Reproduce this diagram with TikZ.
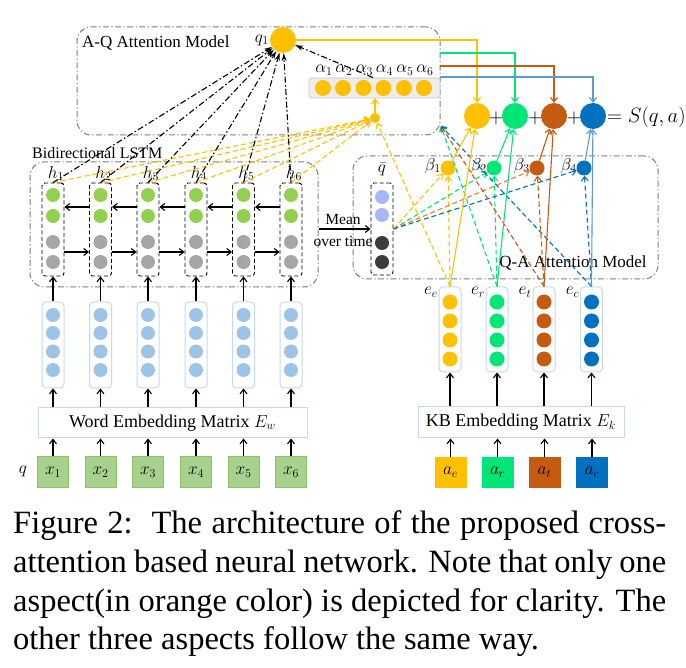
\documentclass[tikz,border=0pt]{standalone}
\usepackage{fontspec}
\setmainfont{Liberation Serif}
\usetikzlibrary{arrows.meta,calc}
\definecolor{cY}{HTML}{FFC000}
\definecolor{cG}{HTML}{00E676}
\definecolor{cB}{HTML}{C55A11}
\definecolor{cU}{HTML}{0070C0}
\definecolor{cUl}{HTML}{5B9BD5}
\definecolor{cOr}{HTML}{ED7D31}
\definecolor{lstmG}{HTML}{92D050}
\definecolor{gcirc}{HTML}{A6A6A6}
\definecolor{embC}{HTML}{9DC3E6}
\definecolor{embB}{HTML}{C5D9F1}
\definecolor{xF}{HTML}{A9D18E}
\definecolor{xB}{HTML}{8CC168}
\definecolor{qL}{HTML}{A5B8FA}
\definecolor{qD}{HTML}{3B3B3B}
\definecolor{grp}{HTML}{7F7F7F}
\definecolor{alF}{HTML}{EDEDED}
\definecolor{alB}{HTML}{C8C8C8}
\newcommand\diagfont{\fontsize{17}{20}\selectfont}
\newcommand\mathlabfont{\fontsize{18.5}{21}\selectfont}
\newcommand\smallfont{\fontsize{15.5}{18}\selectfont}
\newcommand\bigfont{\fontsize{22}{25}\selectfont}
\newcommand\mycapfont{\fontsize{32.5}{38.7}\selectfont}
\tikzset{
 grpbox/.style={draw=grp, line width=1pt, dash pattern=on 6pt off 2.5pt on 1.2pt off 2.5pt, rounded corners=14pt, inner sep=0},
 hcol/.style={draw=black, line width=0.9pt, dash pattern=on 4pt off 2.5pt, rounded corners=3pt, minimum width=22pt, inner sep=0},
 ecolbox/.style={draw=embB, line width=1pt, fill=white, rounded corners=4pt, minimum width=22pt, inner sep=0},
 dot/.style={circle, inner sep=0, minimum size=14pt},
 arr/.style={-{Straight Barb[length=4.5pt,width=7pt]}, line width=1.1pt},
 darr/.style={arr, dash pattern=on 5pt off 3pt},
 kdd/.style={-{Stealth[length=8pt,width=5pt]}, line width=1.1pt, dash pattern=on 6pt off 2.5pt on 1.5pt off 2.5pt},
 txt/.style={font=\diagfont, inner sep=0},
 mtxt/.style={font=\mathlabfont, inner sep=0},
}
\begin{document}
\begin{tikzpicture}[x=1pt,y=-1pt]
\useasboundingbox (0,0) rectangle (686,668);
\fill[white] (0,0) rectangle (686,668);

% group boxes
\node[grpbox, minimum width=363pt, minimum height=108pt] (aq) at (258.5,81) {};
\node[grpbox, minimum width=288pt, minimum height=125pt] (lstm) at (174,224.5) {};
\node[grpbox, minimum width=305pt, minimum height=123pt] (qa) at (505.5,217.5) {};
\node[txt, anchor=west] (aqlab) at (82,43) {A-Q Attention Model};
\node[txt, anchor=west, font=\fontsize{16}{18}\selectfont] (lstmlab) at (32,153) {Bidirectional LSTM};
\node[txt] (qalab) at (573,263) {Q-A Attention Model};

% q1 and alpha
\node[dot, fill=cY, minimum size=26pt] (q1) at (283,40) {};
\node[mtxt, anchor=east] (q1lab) at (269,40) {$q_1$};
\node[draw=alB, fill=alF, line width=0.8pt, rounded corners=3pt, minimum width=131pt, minimum height=20pt, inner sep=0] (alph) at (374.5,88) {};
\foreach \i/\x in {1/323,2/343,3/363.5,4/383.5,5/404,6/424}{
  \node[dot, fill=cY, minimum size=16pt] (al\i) at (\x,88) {};
  \node[inner sep=0, font=\fontsize{17.5}{20}\selectfont] (all\i) at (\x+1,70) {$\alpha_{\i}$};
}
\node[dot, fill=cY, minimum size=10pt] (att) at (375,118) {};

% LSTM columns
\foreach \i/\x in {1/53,2/100.5,3/148,4/196,5/243.5,6/291}{
  \node[hcol, minimum height=93pt] (hc\i) at (\x,229.5) {};
  \node[dot, fill=lstmG] (hga\i) at (\x,195) {};
  \node[dot, fill=lstmG] (hgb\i) at (\x,216) {};
  \node[dot, fill=gcirc] (hgc\i) at (\x,242) {};
  \node[dot, fill=gcirc] (hgd\i) at (\x,262) {};
  \node[mtxt] (hl\i) at (\x+3,173.5) {$h_{\i}$};
  \node[ecolbox, minimum height=86pt] (wc\i) at (\x,345) {};
  \node[dot, fill=embC] (wca\i) at (\x,315) {};
  \node[dot, fill=embC] (wcb\i) at (\x,333) {};
  \node[dot, fill=embC] (wcc\i) at (\x,351.5) {};
  \node[dot, fill=embC] (wcd\i) at (\x,370) {};
  \node[draw=xB, fill=xF, line width=1pt, minimum width=31pt, minimum height=30pt, inner sep=0, font=\mathlabfont] (xb\i) at (\x,472) {$x_{\i}$};
}
\node[draw=embB, line width=1pt, minimum width=269pt, minimum height=30pt, inner sep=0, font=\fontsize{18}{21}\selectfont] (wem) at (172.5,423) {Word Embedding Matrix $E_w$};
\node[mtxt] (qlab) at (23,471) {$q$};

% qbar
\node[hcol, minimum height=92pt] (qbc) at (382,229) {};
\node[dot, fill=qL] (qba) at (382,197) {};
\node[dot, fill=qL] (qbb) at (382,215) {};
\node[dot, fill=qD] (qbcc) at (382,243) {};
\node[dot, fill=qD] (qbd) at (382,262) {};
\node[mtxt] (qblab) at (382,169) {$\bar{q}$};
\node[font=\smallfont, inner sep=0] (mean) at (343,220) {Mean};
\node[font=\smallfont, inner sep=0] (overt) at (343,241) {over time};

% betas and big circles
\foreach \i/\x/\c in {1/448/cY,2/494/cG,3/537/cB,4/584/cU}{
  \node[dot, fill=\c, minimum size=15pt] (beta\i) at (\x,168) {};
  \node[mtxt, anchor=east] (betal\i) at (\x-7,166) {$\beta_{\i}$};
}
\foreach \i/\x/\c in {1/477/cY,2/515/cG,3/554/cB,4/593/cU}{
  \node[dot, fill=\c, minimum size=26pt] (big\i) at (\x,116) {};
}
\node[font=\bigfont, inner sep=0] (p1) at (496,118) {$+$};
\node[font=\bigfont, inner sep=0] (p2) at (535,118) {$+$};
\node[font=\bigfont, inner sep=0] (p3) at (574,118) {$+$};
\node[font=\bigfont, inner sep=0, anchor=west] (score) at (607,117) {$=S(q,a)$};

% e columns
\foreach \i/\x/\c/\s in {1/450/cY/e,2/497/cG/r,3/544/cB/t,4/591.5/cU/c}{
  \node[ecolbox, minimum height=85pt] (ec\i) at (\x,329.5) {};
  \node[dot, fill=\c, minimum size=15pt] (eca\i) at (\x,302) {};
  \node[dot, fill=\c, minimum size=15pt] (ecb\i) at (\x,321) {};
  \node[dot, fill=\c, minimum size=15pt] (ecc\i) at (\x,340) {};
  \node[dot, fill=\c, minimum size=15pt] (ecd\i) at (\x,359) {};
  \node[mtxt] (el\i) at (\x-19,292) {$e_{\s}$};
  \node[fill=\c, minimum width=32pt, minimum height=31pt, inner sep=0, font=\mathlabfont] (ab\i) at (\x+0.5,472.5) {$a_{\s}$};
}
\node[draw=embB, line width=1pt, minimum width=206pt, minimum height=31pt, inner sep=0, font=\fontsize{18}{21}\selectfont] (kbm) at (521,422.5) {KB Embedding Matrix $E_k$};

\coordinate (aqc) at (441,126);
\coordinate (g0) at (440,53);
\coordinate (b0) at (440,66);
\coordinate (u0) at (440,77);

% ---------- connectors ----------
% LSTM recurrences
\foreach \i/\j in {1/2,2/3,3/4,4/5,5/6}{
  \draw[arr] ([yshift=22.5pt]hc\j.west) -- ([yshift=22.5pt]hc\i.east);
  \draw[arr] ([yshift=-22.5pt]hc\i.east) -- ([yshift=-22.5pt]hc\j.west);
}
\foreach \i in {1,...,6}{
  \draw[arr] (wc\i.north) -- (hc\i.south);
  \draw[arr] (wc\i.south |- wem.north) -- (wc\i.south);
  \draw[arr] (xb\i.north) -- (xb\i.north |- wem.south);
  \draw[darr, cY] (hc\i.north) -- (att);
  \draw[kdd] (hc\i.north) -- (q1);
}
\draw[kdd] ([xshift=-1.5pt]alph.north) -- (q1);
\draw[arr, cY] (att) -- (att |- alph.south);
\draw[arr] (lstm.east |- qbc.west) -- (qbc.west);

% KB side
\foreach \i in {1,...,4}{
  \draw[arr] (ec\i.south |- kbm.north) -- (ec\i.south);
  \draw[arr] (ab\i.north) -- (ab\i.north |- kbm.south);
}
% top colored lines
\draw[arr, cY] (q1.east) -| (big1.north);
\draw[arr, cG] (g0) -| (big2.north);
\draw[arr, cB] (b0) -| (big3.north);
\draw[arr, cUl] (u0) -| (big4.north);
% dashed e -> beta
\draw[darr, cY] (ec1.north) -- (beta1);
\draw[darr, cG] (ec2.north) -- (beta2);
\draw[darr, cB] (ec3.north) -- (beta3);
\draw[darr, cU] (ec4.north) -- (beta4);
% dashed qbar -> beta
\draw[darr, cY] (qbc.east) -- (beta1);
\draw[darr, cG] (qbc.east) -- (beta2);
\draw[darr, cOr] (qbc.east) -- (beta3);
\draw[darr, cU] (qbc.east) -- (beta4);
% dashed e -> A-Q model
\draw[darr, cY] (ec1.north) -- (att);
\draw[darr, cG] (ec2.north) -- (aqc);
\draw[darr, cB] (ec3.north) -- (aqc);
\draw[darr, cU] (ec4.north) -- (aqc);
% solid e, beta -> big
\draw[arr, cY] (ec1.north) -- (big1);
\draw[arr, cY] (beta1) -- (big1);
\draw[arr, cG] (ec2.north) -- (big2);
\draw[arr, cG] (beta2) -- (big2);
\draw[arr, cB] (ec3.north) -- (big3);
\draw[arr, cB] (beta3) -- (big3);
\draw[arr, cUl] (ec4.north) -- (big4);
\draw[arr, cUl] (beta4) -- (big4);

% caption
\node[anchor=base west, font=\mycapfont, inner sep=0] (cap1) at (13,533) {\hbox to 653pt{Figure 2:\ \ The architecture of the proposed cross-}};
\node[anchor=base west, font=\mycapfont, inner sep=0] (cap2) at (13,572) {\hbox to 653pt{attention based neural network. Note that only one}};
\node[anchor=base west, font=\mycapfont, inner sep=0] (cap3) at (13,611) {\hbox to 653pt{aspect(in orange color) is depicted for clarity. The}};
\node[anchor=base west, font=\mycapfont, inner sep=0] (cap4) at (13,649) {other three aspects follow the same way.};
\end{tikzpicture}
\end{document}
